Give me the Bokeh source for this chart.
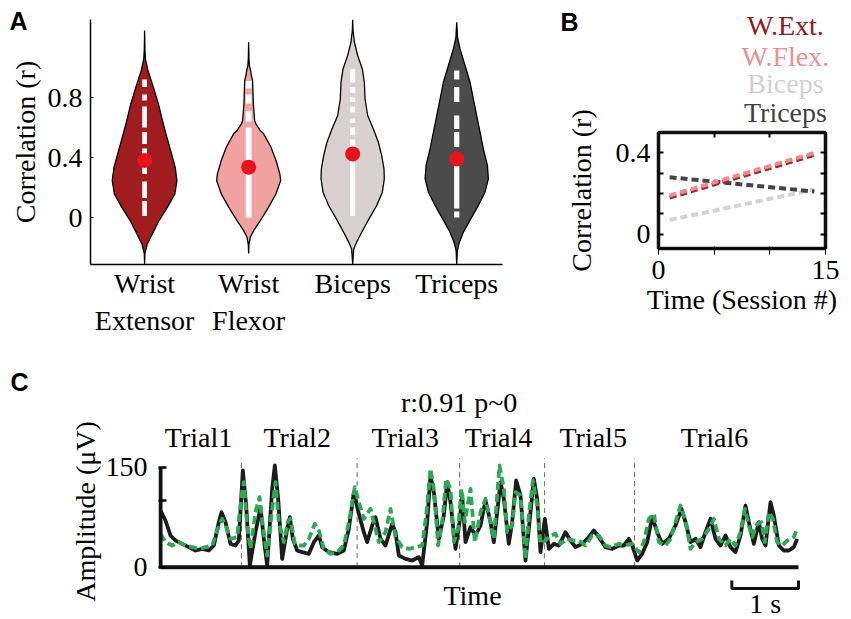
import math
from bokeh.plotting import figure
from bokeh.models import Range1d, FixedTicker, LinearAxis
from bokeh.layouts import column, row
from bokeh.embed import file_html
from bokeh.resources import INLINE
from bokeh.core.properties import value

SERIF = "Liberation Serif"
SANS = "Liberation Sans"
FS = "28px"

# ---------------- Panel A data ----------------
muscles = ["Wrist\nExtensor", "Wrist\nFlexor", "Biceps", "Triceps"]
violin_fill = ["#a11c1f", "#f2a1a1", "#d9d1cf", "#4b4b4b"]

we_r = [-0.31, -0.24, -0.176, -0.109, -0.02, 0.069, 0.158, 0.247, 0.336, 0.424, 0.536, 0.647, 0.758, 0.869, 0.98, 1.058, 1.12, 1.247]
we_hw = [0.0, 0.003, 0.026, 0.074, 0.139, 0.220, 0.291, 0.311, 0.294, 0.259, 0.214, 0.171, 0.133, 0.084, 0.032, 0.008, 0.003, 0.0]
wf_r = [-0.24, -0.18, -0.131, -0.087, -0.02, 0.069, 0.158, 0.247, 0.291, 0.38, 0.47, 0.558, 0.58, 0.624, 0.647, 0.758, 0.913, 0.95, 0.98, 1.01, 1.06, 1.169]
wf_hw = [0.0, 0.003, 0.016, 0.048, 0.112, 0.192, 0.263, 0.308, 0.300, 0.263, 0.214, 0.144, 0.112, 0.070, 0.058, 0.045, 0.038, 0.025, 0.019, 0.008, 0.003, 0.0]
bi_r = [-0.31, -0.209, -0.164, -0.098, -0.009, 0.08, 0.169, 0.258, 0.324, 0.413, 0.502, 0.59, 0.68, 0.79, 0.902, 0.99, 1.08, 1.17, 1.25, 1.32]
bi_hw = [0.0, 0.010, 0.038, 0.087, 0.157, 0.231, 0.285, 0.304, 0.301, 0.279, 0.247, 0.199, 0.144, 0.119, 0.112, 0.093, 0.048, 0.016, 0.003, 0.0]
tr_r = [-0.31, -0.22, -0.164, -0.098, -0.009, 0.08, 0.169, 0.258, 0.347, 0.458, 0.569, 0.68, 0.79, 0.902, 1.013, 1.124, 1.2, 1.302]
tr_hw = [0.0, 0.006, 0.026, 0.064, 0.135, 0.208, 0.272, 0.304, 0.295, 0.256, 0.224, 0.192, 0.160, 0.128, 0.080, 0.032, 0.008, 0.0]

mean_r = [0.38, 0.336, 0.424, 0.391]

# spans of stacked individual points (white)
we_lo = [0.01, 0.13, 0.29, 0.41, 0.49, 0.60, 0.78, 0.87]
we_hi = [0.11, 0.24, 0.38, 0.46, 0.57, 0.74, 0.82, 0.92]
wf_lo = [0.00, 0.64, 0.76, 0.86]
wf_hi = [0.60, 0.71, 0.82, 0.91]
bi_lo = [0.01, 0.45, 0.55, 0.63, 0.70, 0.77, 0.83, 0.90]
bi_hi = [0.38, 0.52, 0.60, 0.66, 0.74, 0.80, 0.87, 0.99]
tr_lo = [0.00, 0.06, 0.47, 0.59, 0.77, 0.92]
tr_hi = [0.04, 0.37, 0.57, 0.68, 0.87, 0.98]

# ---------------- Panel B data ----------------
sessions = [1, 14]
b_names = ["W.Ext.", "W.Flex.", "Biceps", "Triceps"]
b_wext = [0.18, 0.39]
b_wflex = [0.19, 0.40]
b_biceps = [0.07, 0.22]
b_triceps = [0.28, 0.21]
b_line_colors = ["#a8232a", "#f08a8f", "#d6d2d2", "#454545"]
b_text_colors = ["#8e1a1f", "#ec8f96", "#d4cfcf", "#3f3f3f"]

# ---------------- Panel C data ----------------
black_t = [0, .075, .15, .225, .325, .425, .525, .625, .725, .80,
           .875, .915, .975, 1.05, 1.125, 1.175, 1.235, 1.285, 1.34, 1.425,
           1.50, 1.55, 1.60, 1.675, 1.715, 1.765, 1.825, 1.90, 1.94, 1.985,
           2.05, 2.125, 2.225, 2.30, 2.375, 2.425, 2.525, 2.65, 2.75, 2.825,
           2.90, 2.975, 3.05, 3.10, 3.175, 3.225, 3.30, 3.375, 3.475, 3.525,
           3.575, 3.675, 3.775, 3.875, 3.925, 4.00, 4.05, 4.10, 4.175, 4.25,
           4.30, 4.35, 4.425, 4.485, 4.525, 4.575, 4.65,
           4.725, 4.80, 4.875, 4.95, 5.00, 5.05, 5.10, 5.15, 5.225, 5.275,
           5.335, 5.40, 5.475, 5.525, 5.60, 5.65, 5.70, 5.765, 5.825, 5.90,
           5.975, 6.075, 6.15, 6.225, 6.325, 6.425, 6.50, 6.575, 6.675, 6.775,
           6.875, 6.95, 7.025, 7.075, 7.15, 7.225, 7.30, 7.375, 7.45, 7.525,
           7.625, 7.725, 7.815, 7.875, 7.95, 8.025, 8.10, 8.175, 8.25, 8.325,
           8.40, 8.475, 8.55, 8.625, 8.70, 8.775, 8.825, 8.90, 8.975, 9.025,
           9.075, 9.15, 9.20, 9.275, 9.35, 9.425, 9.50, 9.55]
black_v = [85, 70, 47.5, 40, 35, 30, 25, 27.5, 25, 32.5,
           67.5, 82.5, 67.5, 35, 32.5, 40, 145, 92.5, 2.5, 52.5,
           90, 42.5, 2.5, 117.5, 152.5, 102.5, 12.5, 57.5, 75, 42.5,
           25, 22.5, 20, 37.5, 47.5, 30, 22.5, 20, 25, 57.5,
           112.5, 80, 52.5, 37.5, 62.5, 75, 42.5, 32.5, 65, 52.5,
           17.5, 12.5, 10, 15, 2.5, 67.5, 137.5, 112.5, 42.5, 77.5,
           127.5, 97.5, 27.5, 67.5, 107.5, 37.5, 60,
           47.5, 62.5, 100, 67.5, 37.5, 82.5, 127.5, 102.5, 35, 67.5,
           130, 107.5, 10, 57.5, 132.5, 102.5, 22.5, 72.5, 27.5, 35,
           32.5, 52.5, 40, 30, 35, 45, 55, 45, 30, 27.5,
           32.5, 32.5, 42.5, 32.5, 10, 20, 37.5, 75, 52.5, 35,
           42.5, 62.5, 87.5, 67.5, 37.5, 42.5, 30, 52.5, 72.5, 42.5,
           32.5, 47.5, 30, 22.5, 47.5, 92.5, 67.5, 35, 67.5, 42.5,
           32.5, 97.5, 77.5, 32.5, 25, 25, 30, 42.5]
green_t = [0, .075, .175, .275, .375, .475, .575, .675, .775, .85,
           .925, .975, 1.05, 1.15, 1.215, 1.25, 1.30, 1.35, 1.425, 1.485,
           1.535, 1.60, 1.675, 1.725, 1.775, 1.85, 1.915, 1.95, 2.015, 2.075,
           2.15, 2.225, 2.315, 2.375, 2.45, 2.55, 2.65, 2.75, 2.825, 2.915,
           2.975, 3.05, 3.15, 3.20, 3.275, 3.375, 3.45, 3.525, 3.625, 3.725,
           3.825, 3.925, 3.985, 4.05, 4.10, 4.165, 4.225, 4.285, 4.35, 4.40,
           4.465, 4.515, 4.565, 4.65, 4.715, 4.80, 4.875,
           5.00, 5.085, 5.15, 5.20, 5.275, 5.325, 5.40, 5.475, 5.525, 5.585,
           5.65, 5.70, 5.775, 5.85, 5.925, 6.00, 6.10, 6.175, 6.275, 6.375,
           6.475, 6.575, 6.675, 6.75, 6.875, 6.95, 7.075, 7.175, 7.25, 7.325,
           7.40, 7.475, 7.575, 7.65, 7.725, 7.80, 7.875, 7.95, 8.025, 8.125,
           8.225, 8.30, 8.375, 8.475, 8.55, 8.625, 8.70, 8.765, 8.825, 8.875,
           8.95, 9.015, 9.065, 9.125, 9.185, 9.25, 9.325, 9.40, 9.50, 9.55]
green_v = [50, 37.5, 32.5, 37.5, 32.5, 30, 27.5, 30, 32.5, 55,
           72.5, 62.5, 42.5, 45, 107.5, 127.5, 62.5, 27.5, 82.5, 105,
           62.5, 17.5, 87.5, 127.5, 67.5, 37.5, 70, 72.5, 35, 32.5,
           32.5, 42.5, 65, 55, 27.5, 20, 22.5, 32.5, 67.5, 120,
           97.5, 72.5, 87.5, 67.5, 37.5, 52.5, 87.5, 45, 30, 27.5,
           30, 32.5, 77.5, 147.5, 117.5, 32.5, 67.5, 132.5, 117.5, 37.5,
           57.5, 117.5, 67.5, 117.5, 37.5, 82.5, 102.5,
           42.5, 152.5, 117.5, 52.5, 62.5, 112.5, 107.5, 12.5, 77.5, 130,
           92.5, 35, 40, 47.5, 50, 35, 42.5, 40, 40, 32.5,
           47.5, 47.5, 32.5, 30, 35, 32.5, 35, 22.5, 37.5, 72.5,
           80, 37.5, 32.5, 42.5, 67.5, 92.5, 70, 27.5, 37.5, 42.5,
           57.5, 72.5, 42.5, 32.5, 42.5, 32.5, 52.5, 87.5, 62.5, 45,
           65, 67.5, 37.5, 82.5, 72.5, 37.5, 32.5, 40, 45, 57.5]
t_end = 9.57
trial_names = ["Trial1", "Trial2", "Trial3", "Trial4", "Trial5", "Trial6"]
trial_bounds = [1.214, 2.949, 4.487, 5.762, 7.111]
c_title = "r:0.91 p~0"

# ---------------- helpers ----------------
def style_axis(ax):
    ax.major_label_text_font = SERIF
    ax.major_label_text_font_size = FS
    ax.major_label_text_color = "black"
    ax.axis_label_text_font = SERIF
    ax.axis_label_text_font_size = FS
    ax.axis_label_text_font_style = "normal"
    ax.axis_label_text_color = "black"
    ax.minor_tick_line_color = None

def txt(p, x, y, texts, **kw):
    opts = dict(text_font=value(SERIF), text_font_size=FS, text_align="center",
                text_baseline="middle", text_color="black", level="overlay")
    opts.update(kw)
    return p.text(x=x, y=y, text=texts, **opts)

def letter(p, t, x, y):
    txt(p, [x], [y], [t], text_font=value(SANS), text_font_size="25px", text_font_style="bold")

# ---------------- Panel A ----------------
pA = figure(width=530, height=338, x_range=Range1d(0.48, 4.44), y_range=Range1d(-0.313, 1.32),
            output_backend="svg", toolbar_location=None,
            min_border_left=90, min_border_right=28, min_border_top=19, min_border_bottom=74)
pA.grid.visible = False
pA.outline_line_color = None
centers = [1, 2, 3, 4]
profiles = [(we_r, we_hw), (wf_r, wf_hw), (bi_r, bi_hw), (tr_r, tr_hw)]
xs, ys = [], []
for c, (rr, hw) in zip(centers, profiles):
    xs.append([c + w for w in hw] + [c - w for w in hw[::-1]])
    ys.append(list(rr) + list(rr[::-1]))
pA.patches(xs, ys, fill_color=violin_fill, line_color="black", line_width=1.3)
spans = [(we_lo, we_hi, 0.045), (wf_lo, wf_hi, 0.056), (bi_lo, bi_hi, 0.048), (tr_lo, tr_hi, 0.05)]
vx, vb, vt, vw = [], [], [], []
for c, (lo, hi, w) in zip(centers, spans):
    for a, b in zip(lo, hi):
        vx.append(c); vb.append(a); vt.append(b); vw.append(w)
pA.vbar(x=vx, bottom=vb, top=vt, width=vw, fill_color="white", line_color=None)
pA.scatter(centers, mean_r, size=15, fill_color="#e8141c", line_color=None)

ax = pA.yaxis[0]
ax.ticker = FixedTicker(ticks=[0, 0.4, 0.8])
ax.axis_label = "Correlation (r)"
ax.major_tick_in = 3; ax.major_tick_out = 0
ax.major_tick_line_width = 1
ax.major_label_standoff = 8
ax.axis_label_standoff = 4
ax.axis_line_width = 1.5
style_axis(ax)
ax = pA.xaxis[0]
ax.ticker = FixedTicker(ticks=centers)
ax.major_label_overrides = {c: m for c, m in zip(centers, muscles)}
ax.major_tick_in = 0; ax.major_tick_out = 0
ax.major_label_standoff = 3
ax.axis_line_width = 1.5
style_axis(ax)
letter(pA, "A", -0.212, 1.307)

# ---------------- Panel B ----------------
pB = figure(width=320, height=338, x_range=Range1d(0, 15), y_range=Range1d(-0.07, 0.5),
            output_backend="svg", toolbar_location=None,
            min_border_left=128, min_border_right=25, min_border_top=132, min_border_bottom=90)
pB.grid.visible = False
pB.outline_line_color = "#111111"
pB.outline_line_width = 3.5
series_b = [b_biceps, b_triceps, b_wext, b_wflex]
cols_b = [b_line_colors[2], b_line_colors[3], b_line_colors[0], b_line_colors[1]]
for s, col in zip(series_b, cols_b):
    pB.line(sessions, s, line_color=col, line_width=4, line_dash="7 4")

ax = pB.yaxis[0]
ax.ticker = FixedTicker(ticks=[0, 0.1, 0.2, 0.3, 0.4])
ax.major_label_overrides = {0.1: "", 0.2: "", 0.3: ""}
ax.axis_label = "Correlation (r)"
ax.major_label_standoff = 8
ax.axis_label_standoff = 16
style_axis(ax)
ax = pB.xaxis[0]
ax.ticker = FixedTicker(ticks=[0, 5, 10, 15])
ax.major_label_overrides = {5: "", 10: ""}
ax.axis_label = "Time (Session #)"
ax.major_label_standoff = 6
ax.axis_label_standoff = 2
style_axis(ax)
rax = LinearAxis(ticker=FixedTicker(ticks=[0, 0.1, 0.2, 0.3, 0.4]),
                 major_label_overrides={0: "", 0.1: "", 0.2: "", 0.3: "", 0.4: ""})
pB.add_layout(rax, "right")
tax = LinearAxis(ticker=FixedTicker(ticks=[5, 10]), major_label_overrides={5: "", 10: ""})
pB.add_layout(tax, "above")
for a in [pB.yaxis[0], pB.xaxis[0], rax, tax]:
    a.axis_line_color = None
    a.major_tick_in = 5
    a.major_tick_out = 0
    a.major_tick_line_width = 2
    a.minor_tick_line_color = None
    a.major_label_text_font_size = FS
    a.major_label_text_font = SERIF
rax.major_label_standoff = 0
tax.major_label_standoff = 0
legend_y = [1.026, 0.873, 0.741, 0.598]
txt(pB, [11.4] * 4, legend_y, b_names, text_color=b_text_colors)
letter(pB, "B", -8.0, 1.045)

# ---------------- Panel C ----------------
pC = figure(width=850, height=280, x_range=Range1d(-0.03, 9.6), y_range=Range1d(-66.5, 280),
            output_backend="svg", toolbar_location=None, x_axis_location=None, y_axis_location=None,
            min_border_left=158, min_border_right=50, min_border_top=42, min_border_bottom=7)
pC.grid.visible = False
pC.outline_line_color = None
pC.segment(x0=trial_bounds, y0=[0] * len(trial_bounds), x1=trial_bounds, y1=[163] * len(trial_bounds),
           line_color="#666666", line_width=1, line_dash="5 4")
pC.line(black_t, black_v, line_color="#1c1c1c", line_width=3.8, line_join="round")
pC.line(green_t, green_v, line_color="#2fa855", line_width=3.8, line_dash="8 4", line_join="round")
pC.segment(x0=[0], y0=[0], x1=[t_end], y1=[0], line_color="#111111", line_width=4)
pC.segment(x0=[0], y0=[0], x1=[0], y1=[150], line_color="#111111", line_width=4)
# scale bar (1 s)
pC.multi_line(xs=[[t_end - 1, t_end - 1, t_end, t_end]], ys=[[-20, -32, -32, -20]],
              line_color="#111111", line_width=3)
trial_x = [0.57, 2.05, 3.67, 5.07, 6.49, 8.31]
txt(pC, trial_x, [194.5] * 6, trial_names)
txt(pC, [4.48], [247], [c_title])
txt(pC, [4.68, t_end - 0.5], [-42, -54], ["Time", "1 s"])
cax = LinearAxis(ticker=FixedTicker(ticks=[0, 100, 150]), major_label_overrides={100: ""})
cax.axis_line_color = None
cax.major_tick_in = 8
cax.major_tick_out = 0
cax.major_tick_line_width = 2.5
cax.major_label_standoff = 11
style_axis(cax)
pC.add_layout(cax, "left")
txt(pC, [-1.12], [83.5], ["Amplitude (\u03bcV)"], angle=math.pi / 2)
letter(pC, "C", -2.114, 278.5)

top = row(pA, column(pB, spacing=0), spacing=0)
layout = column(top, pC, spacing=0)
open("out.html", "w").write(file_html(layout, INLINE))
